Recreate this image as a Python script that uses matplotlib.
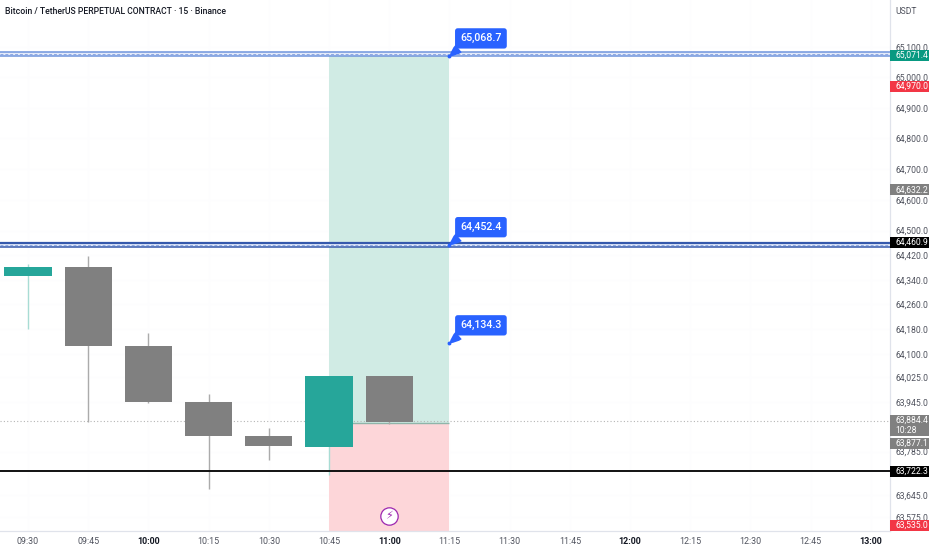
"""Binance BTC perp 15m chart with a long position box."""
import matplotlib.pyplot as plt
from matplotlib.patches import Rectangle
from matplotlib.ticker import NullLocator

plt.rcParams["font.family"] = ["Roboto", "DejaVu Sans"]

TITLE = "Bitcoin / TetherUS PERPETUAL CONTRACT · 15 · Binance"

# candles, one per 15 minutes from 09:30
opens = [64352, 64380, 64125, 63946, 63834, 63801, 64030]
closes = [64380, 64125, 63946, 63834, 63802, 64030, 63882]
highs = [64391, 64417, 64168, 63970, 63861, 64030, 64030]
lows = [64181, 63882, 63943, 63665, 63759, 63710, 63874]

time_labels = ["09:30", "09:45", "10:00", "10:15", "10:30", "10:45", "11:00",
               "11:15", "11:30", "11:45", "12:00", "12:15", "12:30", "12:45",
               "13:00"]
bold_times = ["10:00", "11:00", "12:00", "13:00"]

price_ticks = [65100, 65000, 64900, 64800, 64700, 64600, 64500, 64420, 64340,
               64260, 64180, 64100, 64025, 63945, 63785, 63645, 63575]

# long position box
box_start, box_end = 5, 7
target = 65068.7
entry = 63877.1
stop = 63532

# callouts on the right edge of the box
callout_prices = [65068.7, 64452.4, 64134.3]

# horizontal levels drawn as two lines with a dashed white centre
band_lo = [65070.4, 64448.0]
band_hi = [65082.6, 64460.9]
band_colors = ["#6f94dc", "#3559ac"]

last_price = 63884.4
support = 63722.3

# price axis labels
tag_text = ["65,071.4", "64,970.0", "64,632.2", "64,460.9", "63,884.4\n10:28",
            "63,877.1", "63,722.3", "63,535.0"]
tag_price = [65071.4, 64970.0, 64632.2, 64460.9, 63884.4, 63877.1, 63722.3,
             63535.0]
tag_color = ["#089981", "#f23645", "#808080", "#000000", "#808080", "#808080",
             "#000000", "#f23645"]
tag_shift = [0, 0, 0, 0, 4.5, 20, 0, -4.5]
tag_height = [11, 11, 11, 11, 21, 11, 11, 11]

TEAL = "#26a69a"
GRAY = "#808080"
TEXT = "#50535e"

fig = plt.figure(figsize=(9.32, 5.5), dpi=100, facecolor="white")
ax = fig.add_axes([0, 19.5 / 550, 889.5 / 932, 530.5 / 550])
ax.set_yscale("log")
ax.set_xlim(-0.465, 14.31)
ax.set_ylim(63532, 65254)

ax.grid(True, color="#fdfdfe", lw=1)
ax.set_axisbelow(True)

# position box
ax.fill_between([box_start, box_end], entry, target, color="#d0ebe4", lw=0, zorder=1)
ax.fill_between([box_start, box_end], stop, entry, color="#fdd6d9", lw=0, zorder=1)
ax.hlines(entry, box_start, box_end, color="#8fb5aa", lw=1, zorder=1.5)

# levels
ax.axhline(last_price, color="#b5b5b5", ls=(0, (1, 2)), lw=0.8, zorder=1.2)
ax.axhline(support, color="#111111", lw=1.4, zorder=4)
for lo, hi, col in zip(band_lo, band_hi, band_colors):
    ax.axhspan(lo, hi, color="#e4ebfa", lw=0, zorder=3)
    ax.axhline(lo, color=col, lw=1.1, zorder=3.2)
    ax.axhline(hi, color=col, lw=1.6 if col == "#3559ac" else 1.1, zorder=3.2)
    ax.axhline((lo + hi) / 2, color="#8ea8e2", ls=(0, (3, 2)), lw=0.7, zorder=3.1)

# candles
for i, (o, c, h, l) in enumerate(zip(opens, closes, highs, lows)):
    up = c >= o
    col = TEAL if up else GRAY
    wick = "#a8dcd4" if up else "#ababab"
    ax.vlines(i, l, h, color=wick, lw=1, zorder=2)
    ax.bar(i, abs(c - o), bottom=min(o, c), width=0.785, color=col, lw=0, zorder=2.5)

# callouts
for price in callout_prices:
    ax.plot(box_end, price, "o", ms=1.8, color="#2962ff", zorder=6)
    ax.annotate(
        f"{price:,.1f}", xy=(box_end, price), xytext=(31.5, 18),
        xycoords="data", textcoords="offset pixels",
        ha="center", va="center", fontsize=7.7, color="white", fontweight="medium",
        bbox=dict(boxstyle="round,pad=0.48,rounding_size=0.25", fc="#2962ff", ec="none"),
        arrowprops=dict(arrowstyle="wedge,tail_width=0.9,shrink_factor=0.7",
                        fc="#2962ff", ec="none", shrinkA=0, shrinkB=0,
                        relpos=(0.15, 0.15)),
        zorder=6,
    )

# lightning badge
ax.plot(6, 63578, "o", ms=12.5, mfc="white", mec="#9c27b0", mew=0.9, zorder=6, clip_on=False)
ax.text(6, 63578, "\u26a1", color="#9c27b0", fontsize=8, ha="center", va="center",
        family="DejaVu Sans", zorder=7)

# axes
ax.yaxis.tick_right()
ax.set_yticks(price_ticks)
ax.set_yticklabels([f"{p:,.1f}" for p in price_ticks])
ax.yaxis.set_minor_locator(NullLocator())
ax.tick_params(axis="y", length=0, pad=4, labelsize=6.2, labelcolor=TEXT)
ax.set_xticks(range(len(time_labels)))
ax.set_xticklabels(time_labels)
ax.tick_params(axis="x", length=0, pad=4.5, labelsize=6.4, labelcolor=TEXT)
for lab in ax.get_xticklabels():
    if lab.get_text() in bold_times:
        lab.set_fontweight("bold")
        lab.set_color("#131722")

for side in ["top", "left"]:
    ax.spines[side].set_visible(False)
for side in ["bottom", "right"]:
    ax.spines[side].set_color("#e0e3eb")
    ax.spines[side].set_linewidth(0.9)

# price tags, placed in pixels so they sit over the tick labels
for txt, price, col, shift, h in zip(tag_text, tag_price, tag_color, tag_shift, tag_height):
    y = ax.transData.transform((0, price))[1] - shift
    fig.add_artist(Rectangle((889.5 / 932, (y - h / 2) / 550), 39 / 932, h / 550,
                             transform=fig.transFigure, fc=col, ec="none", zorder=3))
    fig.text(895 / 932, y / 550, txt, color="white", fontsize=6.2, ha="left",
             va="center", linespacing=1.25, zorder=4)

fig.text(5 / 932, 539 / 550, TITLE, fontsize=6.2, color="#131722", fontweight="medium",
         ha="left", va="center")
fig.text(906 / 932, 539 / 550, "USDT", fontsize=6.2, color=TEXT, ha="center", va="center")

fig.savefig("out.png", dpi=100)
plt.close(fig)
